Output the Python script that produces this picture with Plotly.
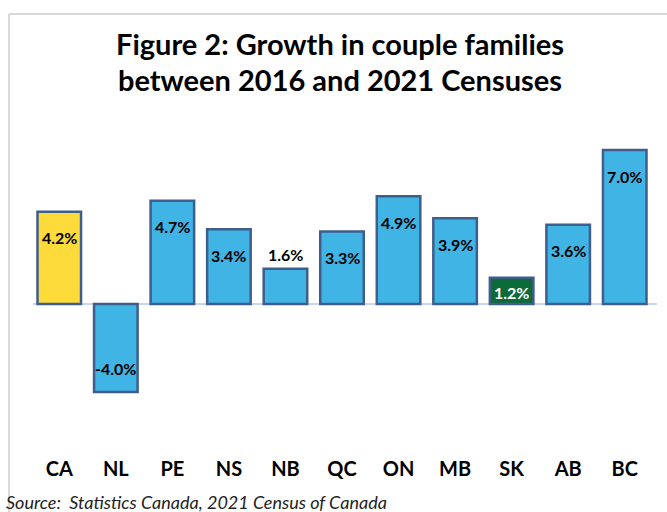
import plotly.graph_objects as go

W, H = 667, 512
L, R, T, B = 31, 14, 130, 57

regions = ["CA", "NL", "PE", "NS", "NB", "QC", "ON", "MB", "SK", "AB", "BC"]
growth = [4.2, -4.0, 4.7, 3.4, 1.6, 3.3, 4.9, 3.9, 1.2, 3.6, 7.0]

BLUE = "#41B4E6"
EDGE = "#3F5E8C"
colors = [BLUE] * len(regions)
colors[0] = "#FCDB3A"
colors[8] = "#0C6B38"

# label offset from the bar tip (px): inside labels sit ~25px in, NB sits above
shift = [-26 if v > 0 else 24 for v in growth]
shift[4] = 14
shift[8] = -15
label_color = ["#000000"] * len(regions)
label_color[8] = "#FFFFFF"

FONT = "Lato, 'Open Sans', sans-serif"


def px_x(x):
    return (x - L) / (W - L - R)


def px_y(y):
    return (H - B - y) / (H - T - B)


fig = go.Figure(go.Bar(
    x=regions, y=growth,
    marker=dict(color=colors, line=dict(color=EDGE, width=2.5)),
    width=0.77,
    hoverinfo="skip",
))

labels = [
    dict(text=f"<b>{v:.1f}%</b>", x=r, y=v, xref="x", yref="y",
         yshift=s, showarrow=False, xanchor="center", yanchor="middle",
         font=dict(family=FONT, size=16, color=c))
    for r, v, s, c in zip(regions, growth, shift, label_color)
]

fig.update_layout(
    width=W, height=H,
    paper_bgcolor="white", plot_bgcolor="white",
    margin=dict(l=L, r=R, t=T, b=B),
    showlegend=False,
    xaxis=dict(
        showgrid=False, showline=False, ticks="",
        tickfont=dict(family=FONT, size=20, color="#000000"),
        tickprefix="<b>", ticksuffix="</b>",
    ),
    yaxis=dict(
        range=[-6.86, 7.91], showgrid=False, showticklabels=False,
        zeroline=False, showline=False, ticks="",
    ),
    shapes=[
        dict(type="line", xref="paper", yref="y",
             x0=px_x(33), x1=px_x(657), y0=0, y1=0,
             line=dict(color="#C9D9EC", width=2), layer="below"),
        dict(type="line", xref="paper", yref="paper",
             x0=px_x(9), x1=px_x(9), y0=px_y(14), y1=px_y(520),
             line=dict(color="#D9D9D9", width=2)),
        dict(type="line", xref="paper", yref="paper",
             x0=px_x(9), x1=px_x(670), y0=px_y(14), y1=px_y(14),
             line=dict(color="#D9D9D9", width=2)),
    ],
    annotations=labels + [
        dict(text="<b>Figure 2: Growth in couple families</b>",
             xref="paper", yref="paper", x=px_x(340), y=px_y(44),
             xanchor="center", yanchor="middle", showarrow=False,
             font=dict(family=FONT, size=29, color="#000000")),
        dict(text="<b>between 2016 and 2021 Censuses</b>",
             xref="paper", yref="paper", x=px_x(340), y=px_y(79),
             xanchor="center", yanchor="middle", showarrow=False,
             font=dict(family=FONT, size=29, color="#000000")),
        dict(text="<i>Source:  Statistics Canada, 2021 Census of Canada</i>",
             xref="paper", yref="paper", x=px_x(4), y=px_y(502),
             xanchor="left", yanchor="middle", showarrow=False,
             font=dict(family=FONT, size=18, color="#222222")),
    ],
)

fig.write_html("out.html", config={"displayModeBar": False},
               post_script="document.body.style.margin='0';")
